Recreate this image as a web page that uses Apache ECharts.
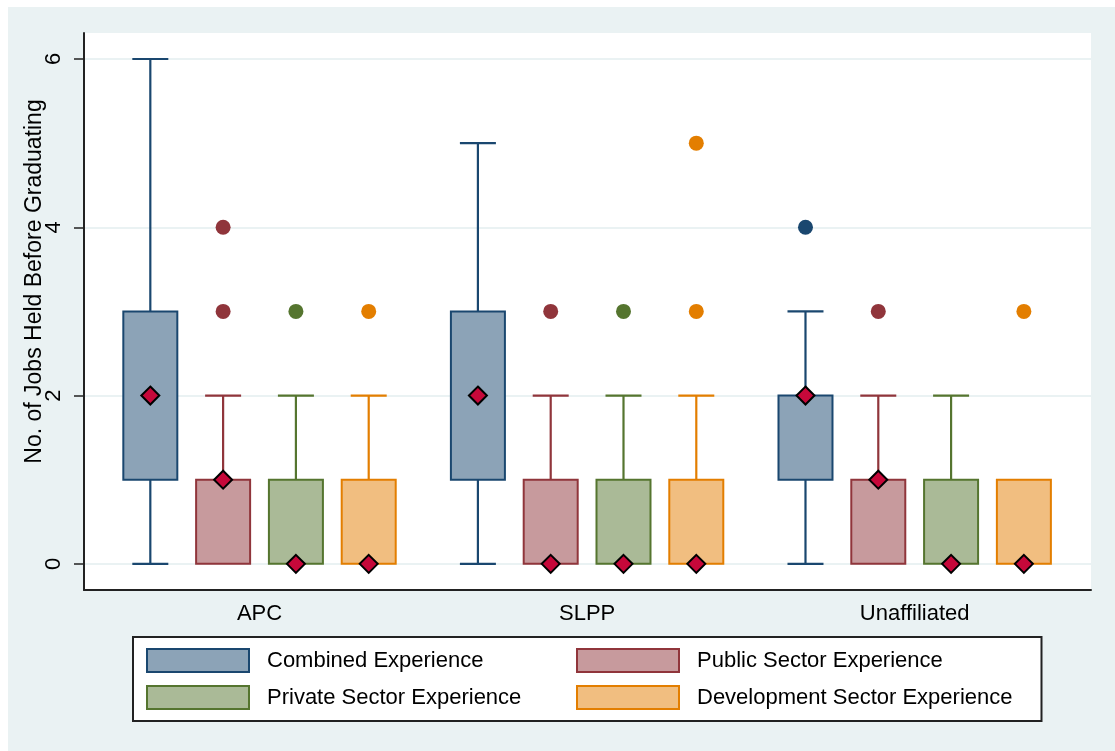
<!DOCTYPE html>
<html>
<head>
<meta charset="utf-8">
<script src="https://cdn.jsdelivr.net/npm/echarts@6/dist/echarts.min.js"></script>
<style>
  html, body { margin: 0; padding: 0; background: #ffffff; }
  #chart { position: absolute; left: 8px; top: 7px; width: 1107px; height: 744px; }
</style>
</head>
<body>
<div id="chart"></div>
<script>
// Party groups on the horizontal axis
const parties = ['APC', 'SLPP', 'Unaffiliated'];
// Experience measures (one box per party for each)
const measures = [
  'Combined Experience',
  'Public Sector Experience',
  'Private Sector Experience',
  'Development Sector Experience'
];
// Box statistics per party: [lower whisker, Q1, median, Q3, upper whisker]
const combinedStats    = [[0, 1, 2, 3, 6], [0, 1, 2, 3, 5], [0, 1, 2, 2, 3]];
const publicStats      = [[0, 0, 1, 1, 2], [0, 0, 0, 1, 2], [0, 0, 1, 1, 2]];
const privateStats     = [[0, 0, 0, 1, 2], [0, 0, 0, 1, 2], [0, 0, 0, 1, 2]];
const developmentStats = [[0, 0, 0, 1, 2], [0, 0, 0, 1, 2], [0, 0, 0, 1, 1]];
// Outside values per party
const combinedOutliers    = [[], [], [4]];
const publicOutliers      = [[3, 4], [3], [3]];
const privateOutliers     = [[3], [3], []];
const developmentOutliers = [[3], [3, 5], [3]];
// Y axis tick labels
const yTicks = [0, 2, 4, 6];

const statsBySeries = [combinedStats, publicStats, privateStats, developmentStats];
const outliersBySeries = [combinedOutliers, publicOutliers, privateOutliers, developmentOutliers];

const lineColors = ['#1A476F', '#90353B', '#55752F', '#E37E00'];
const fillColors = ['#8CA3B7', '#C79A9D', '#AABA97', '#F1BE80'];
const medianColor = '#C6083A';
const FONT = '"Liberation Sans", Arial, Helvetica, sans-serif';

// Slot layout along the x value axis: boxes one unit apart, groups 4.5 units apart
const GROUP_STEP = 4.5;
const slot = (g, s) => g * GROUP_STEP + s;
const groupCenter = g => g * GROUP_STEP + (measures.length - 1) / 2;

const BOX_W = 54;
const CAP_W = 36;

function makeBoxRenderer(si) {
  return function (params, api) {
    const x = api.value(0);
    const vMin = api.value(1), vQ1 = api.value(2), vQ3 = api.value(4), vMax = api.value(5);
    const pMin = api.coord([x, vMin]);
    const pQ1 = api.coord([x, vQ1]);
    const pQ3 = api.coord([x, vQ3]);
    const pMax = api.coord([x, vMax]);
    const cx = pQ1[0];
    const stroke = lineColors[si];
    const lineStyle = { stroke: stroke, lineWidth: 2.2, fill: null };
    const children = [];
    if (vMax > vQ3) {
      children.push({ type: 'line', shape: { x1: cx, y1: pQ3[1], x2: cx, y2: pMax[1] }, style: lineStyle });
      children.push({ type: 'line', shape: { x1: cx - CAP_W / 2, y1: pMax[1], x2: cx + CAP_W / 2, y2: pMax[1] }, style: lineStyle });
    }
    if (vMin < vQ1) {
      children.push({ type: 'line', shape: { x1: cx, y1: pQ1[1], x2: cx, y2: pMin[1] }, style: lineStyle });
      children.push({ type: 'line', shape: { x1: cx - CAP_W / 2, y1: pMin[1], x2: cx + CAP_W / 2, y2: pMin[1] }, style: lineStyle });
    }
    children.push({
      type: 'rect',
      shape: { x: cx - BOX_W / 2, y: pQ3[1], width: BOX_W, height: pQ1[1] - pQ3[1] },
      style: { fill: fillColors[si], stroke: stroke, lineWidth: 2 }
    });
    return { type: 'group', children: children };
  };
}

const series = [];
measures.forEach((name, si) => {
  series.push({
    name: name,
    type: 'custom',
    renderItem: makeBoxRenderer(si),
    itemStyle: { color: fillColors[si], borderColor: lineColors[si] },
    encode: { x: 0, y: [1, 2, 3, 4, 5] },
    data: statsBySeries[si].map((st, g) => [slot(g, si)].concat(st)),
    z: 2
  });
});
measures.forEach((name, si) => {
  const pts = [];
  outliersBySeries[si].forEach((vals, g) => vals.forEach(v => pts.push([slot(g, si), v])));
  series.push({
    name: name,
    type: 'scatter',
    symbol: 'circle',
    symbolSize: 15,
    itemStyle: { color: lineColors[si], opacity: 1 },
    data: pts,
    z: 3
  });
});
const medianPts = [];
statsBySeries.forEach((stats, si) => stats.forEach((st, g) => medianPts.push([slot(g, si), st[2]])));
series.push({
  name: 'Median',
  type: 'scatter',
  symbol: 'diamond',
  symbolSize: 18,
  itemStyle: { color: medianColor, borderColor: '#000', borderWidth: 2, opacity: 1 },
  data: medianPts,
  z: 4
});

const chart = echarts.init(document.getElementById('chart'), null, { renderer: 'canvas' });
chart.setOption({
  animation: false,
  backgroundColor: '#EAF2F3',
  textStyle: { fontFamily: FONT },
  grid: {
    left: 76, right: 24, top: 26, bottom: 161,
    outerBoundsMode: 'none',
    containLabel: false,
    show: true, backgroundColor: '#ffffff', borderWidth: 0
  },
  xAxis: {
    type: 'value',
    min: -0.911,
    max: 12.922,
    axisLine: { show: true, onZero: false, lineStyle: { color: '#222', width: 2 } },
    axisTick: { show: false, customValues: parties.map((p, g) => groupCenter(g)) },
    axisLabel: {
      customValues: parties.map((p, g) => groupCenter(g)),
      formatter: v => parties[Math.round((v - groupCenter(0)) / GROUP_STEP)],
      color: '#000', fontSize: 22, fontFamily: FONT, margin: 13
    },
    splitLine: { show: false }
  },
  yAxis: {
    type: 'value',
    min: -0.311,
    max: 6.309,
    name: 'No. of Jobs Held Before Graduating',
    nameLocation: 'middle',
    nameGap: 38,
    nameMoveOverlap: false,
    nameTextStyle: { color: '#000', fontSize: 23, fontFamily: FONT, padding: [0, 0, 0, 60] },
    axisLine: { show: true, onZero: false, lineStyle: { color: '#222', width: 2 } },
    axisTick: { show: true, length: 10, customValues: yTicks, lineStyle: { color: '#222', width: 1.5 } },
    axisLabel: { customValues: yTicks, rotate: 90, color: '#000', fontSize: 22, fontFamily: FONT, margin: 19 },
    splitLine: { show: true, lineStyle: { color: '#EAF2F3', width: 2 } }
  },
  legend: {
    left: 125,
    top: 630,
    orient: 'horizontal',
    selectedMode: false,
    backgroundColor: '#ffffff',
    borderColor: '#222',
    borderWidth: 2,
    padding: [10, 29, 10, 13],
    itemGap: 10,
    itemWidth: 102,
    itemHeight: 23,
    textStyle: {
      color: '#000', fontSize: 22, fontFamily: FONT,
      width: 299, overflow: 'none', lineHeight: 27, padding: [0, 0, 0, 13]
    },
    data: measures.map((m, i) => ({
      name: m,
      icon: 'rect',
      itemStyle: { color: fillColors[i], borderColor: lineColors[i], borderWidth: 2 }
    }))
  },
  series: series
});
</script>
</body>
</html>
